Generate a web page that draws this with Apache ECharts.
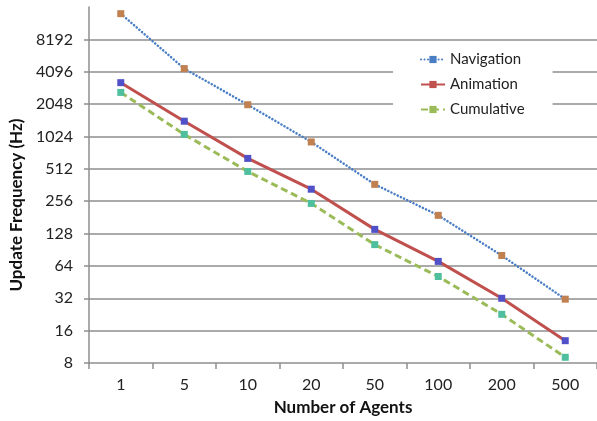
<!DOCTYPE html>
<html>
<head>
<meta charset="utf-8">
<script src="https://cdn.jsdelivr.net/npm/echarts@6/dist/echarts.min.js"></script>
<style>
html,body{margin:0;padding:0;background:#fff;}
#chart{width:597px;height:421px;}
</style>
</head>
<body>
<div id="chart"></div>
<script>
const categories = ['1', '5', '10', '20', '50', '100', '200', '500'];
const navigation = [14200, 4380, 2020, 910, 367, 189, 80, 31.4];
const animation = [3240, 1420, 640, 331, 140, 70.5, 32, 12.9];
const cumulative = [2630, 1070, 484, 244, 101, 51, 22.7, 9.04];
const seriesNames = ['Navigation', 'Animation', 'Cumulative'];

const FONT = 'Lato';
const chart = echarts.init(document.getElementById('chart'), null, {renderer: 'canvas'});
const gridColor = '#8E8E8E';

chart.setOption({
  animation: false,
  backgroundColor: '#fff',
  textStyle: {fontFamily: FONT},
  grid: {left: 85, top: 7, width: 513, bottom: 58, containLabel: false},
  legend: {
    orient: 'vertical',
    left: 393,
    top: 46,
    padding: [5, 28, 5, 27],
    backgroundColor: '#fff',
    itemGap: 8,
    itemWidth: 24,
    itemHeight: 9,
    textStyle: {fontFamily: FONT, fontSize: 15, color: '#222', lineHeight: 17},
    data: [
      {name: seriesNames[0], itemStyle: {color: '#4A7EC4'}},
      {name: seriesNames[1], itemStyle: {color: '#C0504D'}},
      {name: seriesNames[2], itemStyle: {color: '#9BBB59'}}
    ]
  },
  xAxis: {
    type: 'category',
    data: categories,
    boundaryGap: true,
    name: 'Number of Agents',
    nameLocation: 'middle',
    nameGap: 36,
    nameTextStyle: {fontFamily: FONT, fontSize: 17, fontWeight: 'bold', color: '#111'},
    axisLine: {lineStyle: {color: gridColor, width: 1.5}},
    axisTick: {show: true, inside: false, length: 6, lineStyle: {color: gridColor, width: 1.5}},
    axisLabel: {fontFamily: FONT, fontSize: 16, color: '#222', margin: 14},
    splitLine: {show: false}
  },
  yAxis: {
    type: 'log',
    logBase: 2,
    min: 8,
    max: 16384,
    interval: 1,
    name: 'Update Frequency (Hz)',
    nameLocation: 'middle',
    nameGap: 58,
    nameRotate: 90,
    nameTextStyle: {fontFamily: FONT, fontSize: 17, fontWeight: 'bold', color: '#111', padding: [0, 40, 0, 0]},
    axisLine: {show: true, lineStyle: {color: gridColor, width: 1.5}},
    axisTick: {show: true, inside: false, length: 5, lineStyle: {color: gridColor, width: 1.5}},
    axisLabel: {fontFamily: FONT, fontSize: 16, color: '#222', margin: 16, showMaxLabel: false,
      formatter: function (v) { return String(Math.round(v)); }},
    splitLine: {show: true, showMinLine: false, showMaxLine: false, lineStyle: {color: gridColor, width: 1.5}}
  },
  series: [
    {
      name: seriesNames[0], type: 'line', data: navigation,
      symbol: 'rect', symbolSize: 7,
      itemStyle: {color: '#C0804F'},
      lineStyle: {color: '#4A7EC4', width: 2.5, type: [0.1, 3.4], cap: 'round'}
    },
    {
      name: seriesNames[1], type: 'line', data: animation,
      symbol: 'rect', symbolSize: 7,
      itemStyle: {color: '#5050C8'},
      lineStyle: {color: '#C0504D', width: 3}
    },
    {
      name: seriesNames[2], type: 'line', data: cumulative,
      symbol: 'rect', symbolSize: 7,
      itemStyle: {color: '#4FBF9E'},
      lineStyle: {color: '#9BBB59', width: 3, type: [7, 4]}
    }
  ]
});
</script>
</body>
</html>
